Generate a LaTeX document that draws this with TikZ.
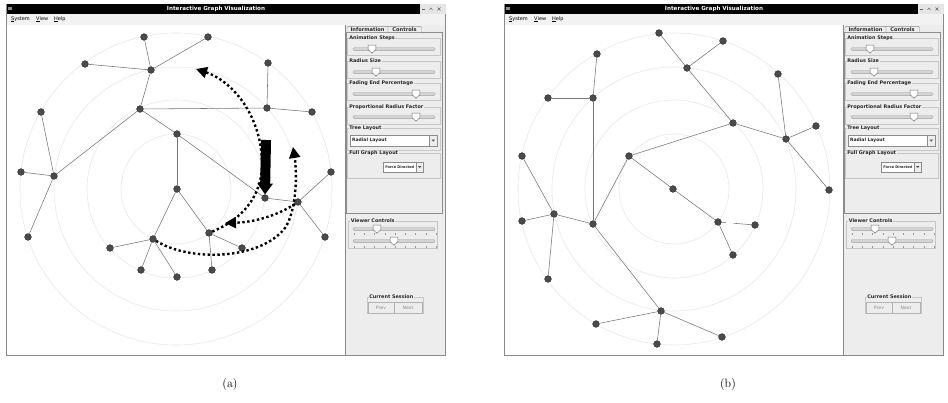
\documentclass[tikz,border=0pt]{standalone}
\usepackage{fontspec}
\newfontfamily\guifont{DejaVu Sans}
\usetikzlibrary{arrows.meta,calc}
\definecolor{panelbg}{HTML}{EDEDED}
\definecolor{menubg}{HTML}{F2F2F2}
\definecolor{ringc}{HTML}{E8E8E8}
\definecolor{edgec}{HTML}{767676}
\definecolor{vtxfill}{HTML}{4A4A4A}
\definecolor{boxc}{HTML}{C6C6C6}
\definecolor{framec}{HTML}{8A8A8A}
\tikzset{
  vtx/.style={circle, fill=vtxfill, draw=black!85, line width=0.35pt, inner sep=0pt, minimum size=6.8pt},
  gedge/.style={draw=edgec, line width=0.55pt},
  ring/.style={draw=ringc, line width=0.6pt},
  dotpath/.style={draw=black, line width=2.4pt, dash pattern=on 2.4pt off 2.5pt},
  dottip/.style={-{Triangle[length=11pt,width=11pt]}},
  titletext/.style={font=\guifont\bfseries\fontsize{5.6}{6}\selectfont, text=white, inner sep=0pt},
  menutext/.style={font=\guifont\fontsize{5}{6}\selectfont, anchor=west, inner sep=0pt},
  tabtext/.style={font=\guifont\bfseries\fontsize{5.1}{6}\selectfont, inner sep=0pt, text=black!85},
  grptitle/.style={font=\guifont\bfseries\fontsize{4.9}{5}\selectfont, fill=panelbg, inner sep=0.6pt, anchor=west, text=black!85},
  grpbox/.style={draw=boxc, line width=0.5pt},
  combotext/.style={font=\guifont\bfseries\fontsize{4.5}{5}\selectfont, inner sep=0pt, text=black!85},
  btntext/.style={font=\guifont\fontsize{4.6}{5}\selectfont, inner sep=0pt, text=black!45},
  captext/.style={font=\fontsize{12}{14}\selectfont, inner sep=0pt}
}
\newcommand\gslider[2]{%
  \filldraw[fill=black!17, draw=black!38, line width=0.4pt, rounded corners=1pt] (353,#1-1.3) rectangle (435,#1+1.3);
  \filldraw[fill=white, draw=black!55, line width=0.45pt] (#2-3.8,#1-3.8) -- (#2+3.8,#1-3.8) -- (#2+3.8,#1+0.8) -- (#2,#1+4.2) -- (#2-3.8,#1+0.8) -- cycle;
}
\newcommand\gticks[1]{%
  \foreach \tx in {354,364.25,374.5,384.75,395,405.25,415.5,425.75,436}{\draw[black!40, line width=0.4pt] (\tx,#1-1) -- (\tx,#1+1);}
}
\newcommand\guiwin[1]{%
  \fill[white] (6,4) rectangle (446,356);
  \fill[black] (6,4) rectangle (420,13.5);
  \fill[black!10] (420,4) rectangle (446,13.5);
  \fill[black!45] (8.3,6.8) rectangle (11.7,10.2);
  \fill[black!60] (422,9) rectangle (424.5,10.2);
  \draw[black!60, line width=0.5pt] (429.5,10) -- (431,8) -- (432.5,10);
  \draw[black!60, line width=0.6pt] (437.5,7.5) -- (440.5,10.5) (437.5,10.5) -- (440.5,7.5);
  \node[titletext] (#1title) at (216,9) {Interactive Graph Visualization};
  \fill[menubg] (6,13.5) rectangle (446,25);
  \node[menutext] (#1msys) at (11,19.2) {\underline{S}ystem};
  \node[menutext] (#1mview) at (36,19.2) {\underline{V}iew};
  \node[menutext] (#1mhelp) at (54,19.2) {\underline{H}elp};
  \fill[panelbg] (345,25) rectangle (446,356);
  \draw[framec, line width=0.5pt] (345,25) -- (345,356);
  \draw[framec, line width=0.8pt] (6.6,4) -- (6.6,355.3) -- (445.6,355.3) -- (445.6,13.5);
  % tabs
  \filldraw[fill=panelbg, draw=black!45, line width=0.45pt] (346,32) rectangle (442,213);
  \filldraw[fill=panelbg, draw=black!45, line width=0.45pt] (347,32) -- (347,27.5) -- (348.5,26.3) -- (388,26.3) -- (388,32);
  \filldraw[fill=panelbg, draw=black!45, line width=0.45pt] (388,32) -- (388,26.3) -- (420,26.3) -- (421.5,27.5) -- (421.5,32);
  \node[tabtext] (#1tinfo) at (367.5,29.4) {Information};
  \node[tabtext] (#1tctrl) at (404.5,29.4) {Controls};
  % groups
  \draw[grpbox] (347.5,38) rectangle (440,55);
  \node[grptitle] (#1g1) at (348.5,38) {Animation Steps};
  \gslider{49}{372}
  \draw[grpbox] (347.5,61) rectangle (440,78);
  \node[grptitle] (#1g2) at (348.5,61) {Radius Size};
  \gslider{72}{376}
  \draw[grpbox] (347.5,83.5) rectangle (440,100.5);
  \node[grptitle] (#1g3) at (348.5,83.5) {Fading End Percentage};
  \gslider{94}{416}
  \draw[grpbox] (347.5,107) rectangle (440,124);
  \node[grptitle] (#1g4) at (348.5,107) {Proportional Radius Factor};
  \gslider{117}{416}
  \draw[grpbox] (347.5,128.5) rectangle (440,150);
  \node[grptitle] (#1g5) at (348.5,128.5) {Tree Layout};
  \filldraw[fill=white, draw=black!45, line width=0.45pt] (350,135) rectangle (437,146);
  \filldraw[fill=panelbg, draw=black!45, line width=0.45pt] (429.5,135) rectangle (437,146);
  \fill[black!70] (431.5,139.6) -- (435,139.6) -- (433.25,141.6) -- cycle;
  \node[combotext, anchor=west] (#1c1) at (352,140.5) {Radial Layout};
  \draw[grpbox] (347.5,153.5) rectangle (440,178);
  \node[grptitle] (#1g6) at (348.5,153.5) {Full Graph Layout};
  \filldraw[fill=white, draw=black!45, line width=0.45pt] (383,162) rectangle (423,172);
  \filldraw[fill=panelbg, draw=black!45, line width=0.45pt] (416.5,162) rectangle (423,172);
  \fill[black!70] (418.2,166.2) -- (421.3,166.2) -- (419.75,168) -- cycle;
  \node[combotext, font=\guifont\bfseries\fontsize{3.5}{4}\selectfont] (#1c2) at (399.8,167) {Force Directed};
  % viewer controls
  \draw[grpbox] (348.5,221) rectangle (437,248);
  \node[grptitle] (#1g7) at (350,221) {Viewer Controls};
  \gslider{229}{377}
  \gticks{234}
  \gslider{241}{394}
  \gticks{246.5}
  % current session
  \draw[grpbox] (367,297) rectangle (423,313.5);
  \node[grptitle] (#1g8) at (368.5,297) {Current Session};
  \draw[black!30, fill=panelbg, line width=0.45pt] (368,302) rectangle (394,313) (394,302) rectangle (422,313);
  \node[btntext] (#1prev) at (381,307.5) {Prev};
  \node[btntext] (#1next) at (408,307.5) {Next};
}
\begin{document}
\begin{tikzpicture}[x=1pt,y=-1pt]
\useasboundingbox (0,0) rectangle (948,402);
\fill[white] (0,0) rectangle (948,402);
\begin{scope}\guiwin{A}\end{scope}
\begin{scope}[shift={(498,0)}]\guiwin{B}\end{scope}

% ---------- graph (a) ----------
\foreach \r in {55,89,122,156}{\draw[ring] (176,189) circle (\r pt);}
\node[vtx] (a1) at (144,37) {};
\node[vtx] (a2) at (208,37) {};
\node[vtx] (a3) at (85,64) {};
\node[vtx] (a4) at (151,70) {};
\node[vtx] (a5) at (268,63) {};
\node[vtx] (a6) at (140,109) {};
\node[vtx] (a7) at (267,108) {};
\node[vtx] (a8) at (312,112) {};
\node[vtx] (a9) at (41,112) {};
\node[vtx] (a10) at (177,134) {};
\node[vtx] (a11) at (21,172) {};
\node[vtx] (a12) at (54,176) {};
\node[vtx] (a13) at (331,172) {};
\node[vtx] (a14) at (28,237) {};
\node[vtx] (a15) at (177,189) {};
\node[vtx] (a16) at (265,198) {};
\node[vtx] (a17) at (298,202) {};
\node[vtx] (a18) at (325,237) {};
\node[vtx] (a19) at (209,233) {};
\node[vtx] (a20) at (153,239) {};
\node[vtx] (a21) at (110,248) {};
\node[vtx] (a22) at (242,248) {};
\node[vtx] (a23) at (141,270) {};
\node[vtx] (a24) at (177,277) {};
\node[vtx] (a25) at (212,270) {};
\foreach \u/\v in {a1/a4,a2/a4,a3/a4,a4/a6,a6/a7,a5/a7,a7/a8,a6/a12,a9/a12,a11/a12,a12/a14,a6/a10,a10/a15,a10/a16,a16/a17,a17/a13,a17/a18,a15/a20,a15/a19,a20/a21,a20/a23,a20/a24,a19/a22,a19/a25}
  {\draw[gedge] (\u) -- (\v);}

% dotted arrows
\coordinate (tipA) at (196,69);
\coordinate (tipB) at (225,223);
\coordinate (tipC) at (293,147);
\draw[dotpath, dottip] (a19) .. controls (235,222) and (258,205) .. (262,170) .. controls (264,120) and (235,82) .. (tipA);
\draw[dotpath, dottip] (a17) .. controls (283,212) and (260,222) .. (tipB);
\draw[dotpath, dottip] (a20) .. controls (190,262) and (260,260) .. (285,228) .. controls (297,210) and (297,172) .. (tipC);
\coordinate (thickS) at (266,140);
\draw[line width=10pt, -{Triangle[length=11pt,width=15pt]}] (thickS) -- (a16.north);

% ---------- graph (b) ----------
\foreach \r in {55,89,122,156}{\draw[ring] (674,189) circle (\r pt);}
\node[vtx] (b1) at (659,33) {};
\node[vtx] (b2) at (723,41) {};
\node[vtx] (b3) at (597,54) {};
\node[vtx] (b4) at (687,68) {};
\node[vtx] (b5) at (778,74) {};
\node[vtx] (b6) at (548,98) {};
\node[vtx] (b7) at (593,98) {};
\node[vtx] (b8) at (733,123) {};
\node[vtx] (b9) at (816,126) {};
\node[vtx] (b10) at (786,139) {};
\node[vtx] (b11) at (522,156) {};
\node[vtx] (b12) at (629,156) {};
\node[vtx] (b13) at (673,189) {};
\node[vtx] (b14) at (829,190) {};
\node[vtx] (b15) at (554,214) {};
\node[vtx] (b16) at (522,221) {};
\node[vtx] (b17) at (593,224) {};
\node[vtx] (b18) at (718,222) {};
\node[vtx] (b19) at (755,225) {};
\node[vtx] (b20) at (733,255) {};
\node[vtx] (b21) at (548,279) {};
\node[vtx] (b22) at (661,311) {};
\node[vtx] (b23) at (596,324) {};
\node[vtx] (b24) at (722,337) {};
\node[vtx] (b25) at (657,344) {};
\foreach \u/\v in {b1/b4,b2/b4,b4/b8,b8/b10,b5/b10,b9/b10,b10/b14,b8/b12,b3/b7,b6/b7,b7/b17,b12/b17,b12/b13,b13/b18,b18/b20,b11/b15,b16/b15,b15/b17,b15/b21,b17/b22,b22/b23,b22/b25,b22/b24}
  {\draw[gedge] (\u) -- (\v);}
\draw[gedge] (b18) -- ($(b18)!0.22!(b19)$);
\draw[gedge] ($(b18)!0.42!(b19)$) -- (b19);

% captions
\node[captext] (capa) at (230,385) {(a)};
\node[captext] (capb) at (728,385) {(b)};
\end{tikzpicture}
\end{document}
